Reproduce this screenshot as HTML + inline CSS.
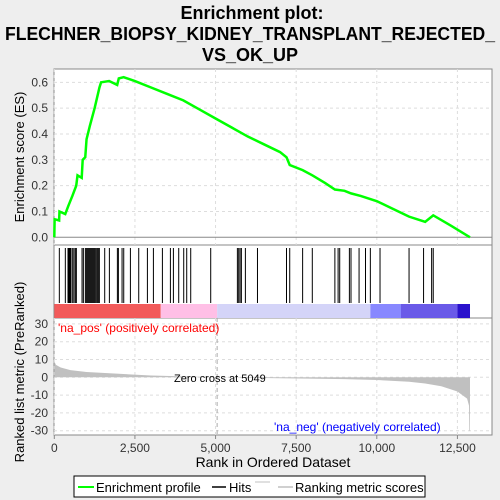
<!DOCTYPE html>
<html><head><meta charset="utf-8"><style>
body{margin:0;background:#eeeeee;font-family:"Liberation Sans","DejaVu Sans",sans-serif}
svg{display:block}
</style></head><body>
<svg id="c" width="500" height="500" xmlns="http://www.w3.org/2000/svg">
<rect width="500" height="500" fill="#eeeeee"/>
<g font-weight="bold" font-size="18" text-anchor="middle" fill="#000">
<text x="252" y="19">Enrichment plot:</text>
<text x="250" y="40" textLength="490" lengthAdjust="spacingAndGlyphs">FLECHNER_BIOPSY_KIDNEY_TRANSPLANT_REJECTED_</text>
<text x="250" y="61">VS_OK_UP</text>
</g>
<rect x="54" y="69" width="438" height="176" fill="#fff" stroke="#888"/>
<rect x="54" y="245" width="438" height="73" fill="#fff" stroke="#888"/>
<rect x="54" y="318" width="438" height="117" fill="#fff" stroke="#888"/>
<g id="grid"></g>
<g id="bars"></g>
<g id="hits"></g>
<path id="metric" fill="#c0c0c0"/>
<polyline id="es" fill="none" stroke="#00ff00" stroke-width="2.5"/>
<g id="axes" font-size="12" fill="#333"></g>
<text x="58" y="332" font-size="12" fill="#ff0000">'na_pos' (positively correlated)</text>
<text x="274" y="431" font-size="12" fill="#0000ff">'na_neg' (negatively correlated)</text>
<text x="174" y="382" font-size="11" fill="#000">Zero cross at 5049</text>
<text x="273" y="467" font-size="14" text-anchor="middle" fill="#000">Rank in Ordered Dataset</text>
<text transform="translate(24,157) rotate(-90)" font-size="13" text-anchor="middle" fill="#000">Enrichment score (ES)</text>
<text transform="translate(24,372) rotate(-90)" font-size="13" text-anchor="middle" fill="#000">Ranked list metric (PreRanked)</text>
<g>
<rect x="74" y="476" width="351" height="21" fill="#fff" stroke="#000"/>
<line x1="78" y1="487" x2="94" y2="487" stroke="#00ff00" stroke-width="2"/>
<text x="96" y="492" font-size="13">Enrichment profile</text>
<line x1="212" y1="487" x2="226" y2="487" stroke="#000" stroke-width="1.5"/>
<text x="229" y="492" font-size="13">Hits</text>
<line x1="255" y1="482" x2="270" y2="482" stroke="#c0c0c0"/>
<line x1="278" y1="487" x2="293" y2="487" stroke="#c0c0c0" stroke-width="1.5"/>
<text x="295" y="492" font-size="13">Ranking metric scores</text>
</g>
</svg>
<script>
const esRanks=[0,10,150,160,340,430,560,680,720,850,880,960,1000,1100,1250,1400,1450,1700,1950,2000,2150,2500,3000,3500,4000,4500,5000,5500,6000,6500,7000,7200,7300,7700,8000,8400,8700,9000,9200,9500,10000,10500,11000,11500,11750,12300,12890];
const esValues=[0,0.07,0.065,0.1,0.09,0.12,0.16,0.2,0.24,0.23,0.3,0.31,0.38,0.43,0.5,0.58,0.6,0.605,0.59,0.615,0.62,0.605,0.58,0.555,0.53,0.495,0.46,0.425,0.39,0.36,0.33,0.31,0.28,0.26,0.24,0.21,0.185,0.18,0.17,0.16,0.14,0.11,0.08,0.06,0.085,0.045,0.0];
const hitRanks=[156,342,425,456,487,518,570,611,653,684,860,901,963,994,1025,1056,1087,1118,1149,1180,1211,1242,1273,1314,1345,1376,1397,1563,1708,1956,1987,2101,2153,2360,2618,2887,3073,3352,3600,3693,3858,4013,4106,4230,4850,5677,5718,5760,5801,5925,6300,7200,7300,7700,8000,8700,8800,8850,9150,9200,9450,9650,9800,10100,11000,11450,11700,11750];
const metricRanks=[0,50,200,500,1000,2000,3000,5049,7000,9000,10000,11000,11500,12000,12500,12800,12860,12870,12890];
const metricValues=[9,7,5.5,4,3,2,1,0,-0.5,-1,-1.5,-2.5,-3.5,-5,-8,-12,-16,-30,-30];
const xTicks=[0,2500,5000,7500,10000,12500];
const xTickLabels=["0","2,500","5,000","7,500","10,000","12,500"];
const esTicks=[0,0.1,0.2,0.3,0.4,0.5,0.6];
const metricTicks=[30,20,10,0,-10,-20,-30];
const bandStops=[0,3300,5049,9800,10750,12500,12890];
const bandColors=["#f25a5a","#ffbfe6","#d4d4f8","#8888ff","#6a5ae8","#2a12cc"];

const X=r=>54.3+r*0.03225;
const YE=v=>237.3-v*258.3;
const YM=v=>377.3-v*1.78;
const NS="http://www.w3.org/2000/svg";
function mk(parent,tag,attrs){const e=document.createElementNS(NS,tag);for(const k in attrs)e.setAttribute(k,attrs[k]);document.getElementById(parent).appendChild(e);return e;}

xTicks.forEach((t,i)=>{
  const g1=mk('grid','line',{x1:X(t),x2:X(t),y1:69,y2:245,stroke:'#ddd','stroke-dasharray':'3,3'});
  
  
  const g2=mk('grid','line',{x1:X(t),x2:X(t),y1:318,y2:435,stroke:'#ddd','stroke-dasharray':'3,3'});
  
  
  const tl=mk('axes','text',{x:X(t),y:452,'text-anchor':'middle'});tl.textContent=xTickLabels[i];
  
  
  const tk=mk('axes','line',{x1:X(t),x2:X(t),y1:435,y2:439,stroke:'#888'});
  
  
});
esTicks.forEach(t=>{
  const g=mk('grid','line',{x1:54,x2:492,y1:YE(t),y2:YE(t),stroke:t===0?'#888':'#ddd','stroke-dasharray':t===0?'':'3,3'});
  
  
  const tl=mk('axes','text',{x:48,y:YE(t)+4,'text-anchor':'end'});tl.textContent=t.toFixed(1);
  
  
});
metricTicks.forEach(t=>{
  const g=mk('grid','line',{x1:54,x2:492,y1:YM(t),y2:YM(t),stroke:'#ddd','stroke-dasharray':'3,3'});
  
  
  const tl=mk('axes','text',{x:48,y:YM(t)+4,'text-anchor':'end'});tl.textContent=String(t);
  
  
});
const zc=mk('grid','line',{x1:X(5049),x2:X(5049),y1:318,y2:435,stroke:'#aaa','stroke-dasharray':'4,3'});


bandColors.forEach((c,i)=>{
  const b=mk('bars','rect',{x:X(bandStops[i]),y:304,width:X(bandStops[i+1])-X(bandStops[i]),height:14,fill:c});
  
  
});
hitRanks.forEach(r=>{
  const h=mk('hits','line',{x1:X(r),x2:X(r),y1:248,y2:303,stroke:'#000','stroke-width':1});
  
  
});
let d='M'+X(0)+','+YM(0);
metricRanks.forEach((r,i)=>{d+=' L'+X(r)+','+YM(metricValues[i]);});
d+=' L'+X(metricRanks[metricRanks.length-1])+','+YM(0)+' Z';
document.getElementById('metric').setAttribute('d',d);
document.getElementById('es').setAttribute('points',esRanks.map((r,i)=>X(r)+','+YE(esValues[i])).join(' '));
</script>
</body></html>
